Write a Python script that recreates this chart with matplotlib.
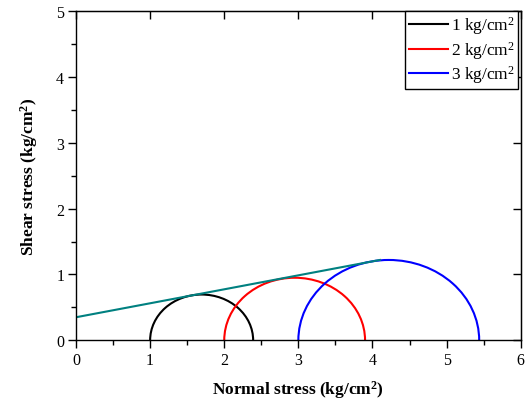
import matplotlib
matplotlib.use("Agg")
import matplotlib.pyplot as plt
from matplotlib.patches import Arc
from matplotlib.lines import Line2D

plt.rcParams["font.family"] = ["Liberation Serif", "DejaVu Serif"]
plt.rcParams["mathtext.fontset"] = "custom"
plt.rcParams["mathtext.rm"] = "Liberation Serif"
plt.rcParams["mathtext.bf"] = "Liberation Serif:bold"
plt.rcParams["mathtext.default"] = "regular"

# Mohr circles: minor / major principal stress per confining pressure (kg/cm^2)
labels = ["1 kg/cm$^2$", "2 kg/cm$^2$", "3 kg/cm$^2$"]
sigma3 = [1.0, 2.0, 3.0]
sigma1 = [2.39, 3.90, 5.44]
colors = ["black", "#ff0000", "#0000ff"]

# failure envelope (end points)
env_x = [0.0, 4.1]
env_y = [0.35, 1.22]

fig = plt.figure(figsize=(5.29, 4.02), dpi=100)
ax = fig.add_axes([0.1437, 0.151, 0.8406, 0.819])

handles = []
for s3, s1, c, lab in zip(sigma3, sigma1, colors, labels):
    d = s1 - s3
    ax.add_patch(Arc(((s1 + s3) / 2, 0), d, d, theta1=0, theta2=180,
                     color=c, lw=1.5))
    handles.append(Line2D([], [], color=c, lw=1.5, label=lab))

ax.plot(env_x, env_y, color="#008080", lw=1.5)

ax.set_xlim(0, 6)
ax.set_ylim(0, 5)
ax.set_xticks(range(0, 7))
ax.set_yticks(range(0, 6))
ax.set_xticks([i + 0.5 for i in range(6)], minor=True)
ax.set_yticks([i + 0.5 for i in range(5)], minor=True)
ax.tick_params(which="major", direction="out", length=5.5, width=1, labelsize=11.5, pad=3)
ax.tick_params(which="minor", direction="out", length=3.5, width=1)

# mirrored inward ticks on the top and right
for sec in (ax.secondary_xaxis("top"), ax.secondary_yaxis("right")):
    sec.tick_params(which="major", direction="in", length=5.5, width=1,
                    labeltop=False, labelright=False)
    sec.tick_params(which="minor", direction="in", length=3.5, width=1)
for s in ax.spines.values():
    s.set_linewidth(1)

ax.set_xlabel("Normal stress (kg/cm$^\\mathbf{2}$)", fontsize=12.5, fontweight="bold", labelpad=7)
ax.set_ylabel("Shear stress (kg/cm$^\\mathbf{2}$)", fontsize=12.5, fontweight="bold", labelpad=12)

leg = ax.legend(handles=handles, loc="upper right", bbox_to_anchor=(0.995, 1.0),
                borderaxespad=0, fontsize=12.5, handlelength=2.3, handletextpad=0.15,
                fancybox=False, framealpha=1, edgecolor="black", borderpad=0.2,
                labelspacing=0.15)
leg.get_frame().set_linewidth(1)

fig.savefig("out.png", dpi=100)
